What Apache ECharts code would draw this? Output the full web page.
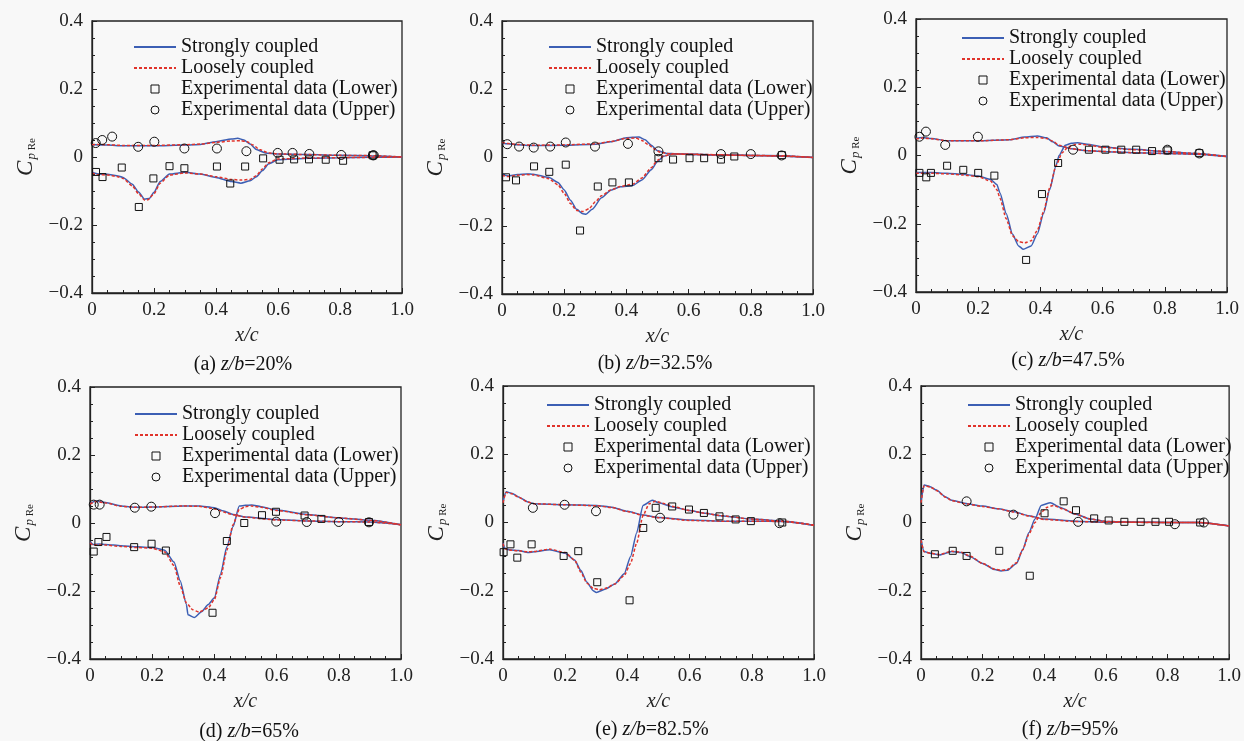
<!DOCTYPE html>
<html>
<head>
<meta charset="utf-8">
<script src="https://cdn.jsdelivr.net/npm/echarts@6/dist/echarts.min.js"></script>
<style>
html,body{margin:0;padding:0;background:#f8f8f8;}
#chart{width:1244px;height:741px;}
</style>
</head>
<body>
<div id="chart"></div>
<script>
// ---------- Data ----------
const panelLetters = ['a', 'b', 'c', 'd', 'e', 'f'];
const panelSpans = ['20%', '32.5%', '47.5%', '65%', '82.5%', '95%'];
const xTicks = [0, 0.2, 0.4, 0.6, 0.8, 1.0];
const yTicks = [-0.4, -0.2, 0, 0.2, 0.4];
const seriesNames = ['Strongly coupled', 'Loosely coupled', 'Experimental data (Lower)', 'Experimental data (Upper)'];

// Panel (a) z/b = 20%
const aStrongUp = [[0,0.035],[0.01,0.036],[0.05,0.035],[0.1,0.033],[0.2,0.033],[0.3,0.035],[0.35,0.037],[0.4,0.045],[0.45,0.053],[0.47,0.055],[0.49,0.05],[0.51,0.038],[0.53,0.022],[0.56,0.012],[0.6,0.009],[0.7,0.007],[0.8,0.005],[0.9,0.004],[1.0,0.0]];
const aLooseUp = [[0,0.036],[0.01,0.037],[0.05,0.036],[0.1,0.034],[0.2,0.034],[0.3,0.036],[0.35,0.038],[0.4,0.043],[0.45,0.047],[0.48,0.048],[0.5,0.045],[0.52,0.035],[0.54,0.022],[0.57,0.012],[0.6,0.009],[0.7,0.007],[0.8,0.005],[0.9,0.004],[1.0,0.0]];
const aStrongLow = [[0,-0.045],[0.02,-0.05],[0.05,-0.051],[0.08,-0.055],[0.1,-0.06],[0.13,-0.08],[0.15,-0.103],[0.17,-0.124],[0.185,-0.122],[0.2,-0.104],[0.22,-0.072],[0.25,-0.05],[0.3,-0.045],[0.35,-0.05],[0.4,-0.06],[0.45,-0.072],[0.48,-0.077],[0.51,-0.07],[0.53,-0.058],[0.55,-0.04],[0.57,-0.02],[0.6,-0.008],[0.7,-0.004],[0.8,-0.002],[0.9,-0.001],[1.0,0]];
const aLooseLow = [[0,-0.047],[0.02,-0.052],[0.05,-0.053],[0.08,-0.057],[0.1,-0.063],[0.13,-0.085],[0.15,-0.108],[0.17,-0.127],[0.18,-0.126],[0.2,-0.108],[0.22,-0.077],[0.25,-0.053],[0.3,-0.047],[0.35,-0.05],[0.4,-0.058],[0.45,-0.066],[0.48,-0.068],[0.51,-0.066],[0.53,-0.055],[0.55,-0.035],[0.57,-0.017],[0.6,-0.006],[0.7,-0.003],[0.8,-0.002],[0.9,-0.001],[1.0,0]];
const aExpLow = [[0.013,-0.044],[0.034,-0.059],[0.096,-0.031],[0.151,-0.147],[0.198,-0.063],[0.25,-0.027],[0.298,-0.033],[0.403,-0.028],[0.446,-0.078],[0.494,-0.028],[0.552,-0.004],[0.605,-0.008],[0.652,-0.007],[0.7,-0.007],[0.754,-0.008],[0.81,-0.011],[0.905,0.005]];
const aExpUp = [[0.012,0.041],[0.033,0.05],[0.065,0.06],[0.149,0.03],[0.201,0.045],[0.298,0.025],[0.403,0.025],[0.498,0.017],[0.599,0.012],[0.647,0.012],[0.701,0.009],[0.804,0.006],[0.906,0.005],[0.909,0.005]];

// Panel (b) z/b = 32.5%
const bStrongUp = [[0,0.042],[0.02,0.04],[0.05,0.037],[0.1,0.035],[0.2,0.036],[0.3,0.039],[0.35,0.046],[0.4,0.058],[0.44,0.06],[0.46,0.052],[0.48,0.036],[0.5,0.02],[0.53,0.012],[0.56,0.011],[0.6,0.009],[0.7,0.007],[0.8,0.006],[0.9,0.005],[1.0,0]];
const bLooseUp = [[0,0.044],[0.02,0.041],[0.05,0.038],[0.1,0.036],[0.2,0.037],[0.3,0.04],[0.35,0.047],[0.4,0.056],[0.43,0.057],[0.45,0.05],[0.47,0.038],[0.49,0.025],[0.51,0.015],[0.54,0.011],[0.6,0.009],[0.7,0.007],[0.8,0.006],[0.9,0.005],[1.0,0]];
const bStrongLow = [[0,-0.05],[0.02,-0.054],[0.05,-0.05],[0.08,-0.048],[0.1,-0.049],[0.15,-0.058],[0.18,-0.073],[0.2,-0.095],[0.22,-0.125],[0.24,-0.152],[0.26,-0.165],[0.27,-0.166],[0.29,-0.152],[0.32,-0.118],[0.35,-0.096],[0.38,-0.086],[0.42,-0.082],[0.45,-0.066],[0.48,-0.036],[0.5,-0.012],[0.52,0.004],[0.55,0.01],[0.6,0.01],[0.7,0.008],[0.8,0.006],[0.9,0.004],[1.0,0]];
const bLooseLow = [[0,-0.052],[0.02,-0.056],[0.05,-0.052],[0.08,-0.05],[0.1,-0.051],[0.15,-0.062],[0.18,-0.08],[0.2,-0.105],[0.22,-0.135],[0.24,-0.155],[0.26,-0.158],[0.28,-0.15],[0.3,-0.13],[0.32,-0.112],[0.35,-0.095],[0.38,-0.085],[0.42,-0.078],[0.45,-0.06],[0.48,-0.03],[0.5,-0.008],[0.52,0.005],[0.55,0.01],[0.6,0.01],[0.7,0.008],[0.8,0.006],[0.9,0.004],[1.0,0]];
const bExpLow = [[0.013,-0.058],[0.045,-0.067],[0.103,-0.026],[0.152,-0.042],[0.205,-0.021],[0.251,-0.214],[0.308,-0.085],[0.355,-0.073],[0.408,-0.073],[0.503,-0.002],[0.55,-0.006],[0.603,-0.002],[0.65,-0.002],[0.704,-0.006],[0.747,0.003],[0.9,0.007]];
const bExpUp = [[0.017,0.039],[0.055,0.032],[0.102,0.029],[0.155,0.032],[0.205,0.044],[0.299,0.032],[0.405,0.04],[0.503,0.018],[0.704,0.01],[0.8,0.01],[0.899,0.006]];

// Panel (c) z/b = 47.5%
const cStrongUp = [[0,0.05],[0.02,0.053],[0.05,0.05],[0.1,0.043],[0.2,0.043],[0.3,0.046],[0.35,0.054],[0.39,0.057],[0.42,0.052],[0.44,0.04],[0.46,0.028],[0.5,0.02],[0.55,0.014],[0.6,0.012],[0.7,0.008],[0.8,0.006],[0.9,0.004],[1.0,-0.003]];
const cLooseUp = [[0,0.048],[0.02,0.051],[0.05,0.049],[0.1,0.043],[0.2,0.043],[0.3,0.046],[0.35,0.052],[0.39,0.053],[0.42,0.05],[0.44,0.042],[0.46,0.03],[0.5,0.02],[0.55,0.014],[0.6,0.012],[0.7,0.008],[0.8,0.006],[0.9,0.004],[1.0,-0.003]];
const cStrongLow = [[0,-0.05],[0.05,-0.05],[0.1,-0.052],[0.15,-0.055],[0.2,-0.06],[0.24,-0.07],[0.26,-0.085],[0.27,-0.11],[0.29,-0.17],[0.31,-0.23],[0.33,-0.265],[0.345,-0.275],[0.37,-0.265],[0.39,-0.23],[0.41,-0.17],[0.43,-0.1],[0.45,-0.03],[0.46,0.0],[0.48,0.03],[0.5,0.036],[0.52,0.037],[0.55,0.033],[0.6,0.025],[0.7,0.018],[0.8,0.012],[0.9,0.006],[1.0,-0.003]];
const cLooseLow = [[0,-0.052],[0.05,-0.052],[0.1,-0.054],[0.15,-0.057],[0.2,-0.062],[0.24,-0.075],[0.26,-0.1],[0.27,-0.125],[0.29,-0.185],[0.31,-0.235],[0.33,-0.252],[0.35,-0.256],[0.37,-0.25],[0.39,-0.22],[0.41,-0.165],[0.43,-0.095],[0.45,-0.03],[0.47,0.008],[0.49,0.026],[0.51,0.032],[0.53,0.033],[0.56,0.03],[0.6,0.024],[0.7,0.017],[0.8,0.012],[0.9,0.006],[1.0,-0.003]];
const cExpLow = [[0.011,-0.051],[0.033,-0.064],[0.048,-0.051],[0.1,-0.03],[0.152,-0.042],[0.2,-0.051],[0.252,-0.059],[0.354,-0.306],[0.405,-0.113],[0.457,-0.022],[0.556,0.017],[0.609,0.017],[0.66,0.017],[0.708,0.017],[0.759,0.013],[0.809,0.015],[0.911,0.007]];
const cExpUp = [[0.011,0.055],[0.032,0.07],[0.094,0.031],[0.199,0.055],[0.505,0.017],[0.808,0.017],[0.911,0.006]];

// Panel (d) z/b = 65%
const dStrongUp = [[0,0.058],[0.02,0.065],[0.05,0.06],[0.1,0.05],[0.15,0.046],[0.2,0.047],[0.3,0.05],[0.35,0.05],[0.4,0.045],[0.43,0.035],[0.46,0.025],[0.5,0.018],[0.6,0.01],[0.7,0.006],[0.8,0.004],[0.9,0.003],[1.0,-0.005]];
const dLooseUp = [[0,0.056],[0.02,0.063],[0.05,0.059],[0.1,0.049],[0.15,0.046],[0.2,0.047],[0.3,0.05],[0.35,0.049],[0.4,0.042],[0.43,0.032],[0.46,0.024],[0.5,0.017],[0.6,0.009],[0.7,0.006],[0.8,0.004],[0.9,0.003],[1.0,-0.005]];
const dStrongLow = [[0,-0.055],[0.01,-0.063],[0.03,-0.062],[0.05,-0.063],[0.1,-0.067],[0.15,-0.07],[0.2,-0.072],[0.24,-0.08],[0.27,-0.115],[0.29,-0.17],[0.31,-0.24],[0.315,-0.27],[0.335,-0.278],[0.36,-0.26],[0.38,-0.24],[0.4,-0.22],[0.42,-0.15],[0.44,-0.07],[0.46,-0.01],[0.48,0.05],[0.5,0.052],[0.52,0.053],[0.55,0.048],[0.6,0.038],[0.7,0.025],[0.8,0.015],[0.9,0.008],[1.0,-0.005]];
const dLooseLow = [[0,-0.058],[0.01,-0.065],[0.03,-0.064],[0.05,-0.065],[0.1,-0.069],[0.15,-0.072],[0.2,-0.074],[0.24,-0.085],[0.27,-0.125],[0.29,-0.185],[0.31,-0.235],[0.33,-0.255],[0.35,-0.262],[0.38,-0.25],[0.4,-0.225],[0.42,-0.16],[0.44,-0.08],[0.46,-0.005],[0.48,0.04],[0.5,0.048],[0.52,0.05],[0.55,0.046],[0.6,0.037],[0.7,0.024],[0.8,0.015],[0.9,0.008],[1.0,-0.005]];
const dExpLow = [[0.012,-0.084],[0.027,-0.056],[0.053,-0.041],[0.142,-0.071],[0.198,-0.061],[0.244,-0.081],[0.394,-0.264],[0.44,-0.053],[0.496,0],[0.553,0.023],[0.598,0.033],[0.69,0.022],[0.744,0.012],[0.897,0.003]];
const dExpUp = [[0.012,0.054],[0.031,0.054],[0.144,0.045],[0.197,0.048],[0.402,0.029],[0.599,0.004],[0.697,0.003],[0.8,0.003],[0.897,0.002]];

// Panel (e) z/b = 82.5%
const eStrongUp = [[0,0.06],[0.01,0.09],[0.03,0.085],[0.05,0.075],[0.08,0.06],[0.1,0.055],[0.2,0.052],[0.3,0.05],[0.35,0.045],[0.4,0.033],[0.45,0.022],[0.5,0.015],[0.6,0.007],[0.7,0.004],[0.8,0.004],[0.9,0.003],[1.0,-0.008]];
const eLooseUp = [[0,0.058],[0.01,0.088],[0.03,0.084],[0.05,0.074],[0.08,0.06],[0.1,0.055],[0.2,0.052],[0.3,0.049],[0.35,0.044],[0.4,0.032],[0.45,0.021],[0.5,0.014],[0.6,0.006],[0.7,0.004],[0.8,0.004],[0.9,0.003],[1.0,-0.008]];
const eStrongLow = [[0,-0.06],[0.005,-0.075],[0.02,-0.08],[0.05,-0.082],[0.08,-0.088],[0.1,-0.086],[0.15,-0.08],[0.2,-0.09],[0.23,-0.11],[0.25,-0.14],[0.27,-0.175],[0.29,-0.2],[0.3,-0.205],[0.33,-0.195],[0.36,-0.18],[0.39,-0.15],[0.41,-0.1],[0.43,-0.03],[0.45,0.05],[0.48,0.065],[0.5,0.058],[0.55,0.045],[0.6,0.035],[0.65,0.027],[0.7,0.02],[0.8,0.01],[0.9,0.004],[1.0,-0.008]];
const eLooseLow = [[0,-0.062],[0.005,-0.076],[0.02,-0.081],[0.05,-0.083],[0.08,-0.086],[0.1,-0.085],[0.15,-0.078],[0.2,-0.088],[0.23,-0.11],[0.25,-0.145],[0.27,-0.178],[0.29,-0.193],[0.31,-0.197],[0.33,-0.193],[0.36,-0.18],[0.39,-0.155],[0.41,-0.12],[0.43,-0.06],[0.45,0.02],[0.47,0.055],[0.49,0.062],[0.52,0.055],[0.55,0.046],[0.6,0.035],[0.65,0.027],[0.7,0.02],[0.8,0.01],[0.9,0.004],[1.0,-0.008]];
const eExpLow = [[0.002,-0.087],[0.024,-0.064],[0.046,-0.103],[0.092,-0.064],[0.195,-0.098],[0.242,-0.084],[0.303,-0.175],[0.407,-0.228],[0.451,-0.016],[0.491,0.043],[0.544,0.047],[0.598,0.038],[0.646,0.028],[0.696,0.018],[0.748,0.009],[0.797,0.004],[0.898,0]];
const eExpUp = [[0.096,0.043],[0.198,0.052],[0.299,0.033],[0.505,0.014],[0.889,-0.002]];

// Panel (f) z/b = 95%
const fStrongUp = [[0,0.06],[0.01,0.11],[0.03,0.105],[0.05,0.095],[0.08,0.075],[0.1,0.065],[0.15,0.055],[0.2,0.048],[0.25,0.04],[0.3,0.032],[0.35,0.02],[0.4,0.01],[0.5,0.004],[0.6,0.001],[0.8,0],[0.9,0],[1.0,-0.01]];
const fLooseUp = [[0,0.058],[0.01,0.108],[0.03,0.104],[0.05,0.094],[0.08,0.074],[0.1,0.064],[0.15,0.054],[0.2,0.047],[0.25,0.04],[0.3,0.031],[0.35,0.019],[0.4,0.009],[0.5,0.003],[0.6,0.001],[0.8,0],[0.9,0],[1.0,-0.01]];
const fStrongLow = [[0,-0.05],[0.01,-0.085],[0.03,-0.09],[0.06,-0.095],[0.1,-0.085],[0.13,-0.088],[0.16,-0.1],[0.2,-0.12],[0.24,-0.138],[0.26,-0.142],[0.28,-0.14],[0.31,-0.12],[0.33,-0.08],[0.35,-0.03],[0.37,0.01],[0.39,0.05],[0.42,0.058],[0.45,0.045],[0.5,0.025],[0.55,0.01],[0.6,0.003],[0.7,0.001],[0.8,0],[0.9,0],[1.0,-0.01]];
const fLooseLow = [[0,-0.052],[0.01,-0.086],[0.03,-0.09],[0.06,-0.094],[0.1,-0.084],[0.13,-0.087],[0.16,-0.099],[0.2,-0.12],[0.24,-0.137],[0.26,-0.14],[0.28,-0.138],[0.31,-0.118],[0.33,-0.08],[0.35,-0.035],[0.37,0.0],[0.39,0.03],[0.41,0.045],[0.43,0.05],[0.46,0.04],[0.5,0.025],[0.55,0.01],[0.6,0.003],[0.7,0.001],[0.8,0],[0.9,0],[1.0,-0.01]];
const fExpLow = [[0.045,-0.093],[0.103,-0.083],[0.148,-0.098],[0.254,-0.083],[0.353,-0.156],[0.401,0.027],[0.463,0.062],[0.503,0.036],[0.562,0.012],[0.609,0.006],[0.66,0.002],[0.713,0.002],[0.761,0.002],[0.805,0.002],[0.906,0]];
const fExpUp = [[0.148,0.062],[0.3,0.023],[0.51,0.002],[0.824,-0.005],[0.918,0]];

// ---------- Layout / styling ----------
const panels = [
  {su: aStrongUp, lu: aLooseUp, sl: aStrongLow, ll: aLooseLow, el: aExpLow, eu: aExpUp},
  {su: bStrongUp, lu: bLooseUp, sl: bStrongLow, ll: bLooseLow, el: bExpLow, eu: bExpUp},
  {su: cStrongUp, lu: cLooseUp, sl: cStrongLow, ll: cLooseLow, el: cExpLow, eu: cExpUp},
  {su: dStrongUp, lu: dLooseUp, sl: dStrongLow, ll: dLooseLow, el: dExpLow, eu: dExpUp},
  {su: eStrongUp, lu: eLooseUp, sl: eStrongLow, ll: eLooseLow, el: eExpLow, eu: eExpUp},
  {su: fStrongUp, lu: fLooseUp, sl: fStrongLow, ll: fLooseLow, el: fExpLow, eu: fExpUp}
];
const gridBoxes = [
  {left: 92, top: 21, width: 310, height: 272},
  {left: 502, top: 21, width: 311, height: 273},
  {left: 916, top: 19, width: 311, height: 273},
  {left: 90, top: 387, width: 311, height: 272},
  {left: 503, top: 386, width: 311, height: 273},
  {left: 921, top: 386, width: 310, height: 273}
];
const legendPos = [
  {left: 133, top: 37}, {left: 548, top: 37}, {left: 961, top: 28},
  {left: 134, top: 404}, {left: 546, top: 395}, {left: 967, top: 395}
];
const captionPos = [
  {x: 243, y: 365}, {x: 655, y: 364}, {x: 1068, y: 361},
  {x: 249, y: 732}, {x: 652, y: 730}, {x: 1070, y: 730}
];

const FONT = "'Liberation Serif', 'DejaVu Serif', serif";
const BLUE = '#3c5fb4';
const RED = '#e0332b';
const AX = '#222';

function fmtNum(v) {
  if (Math.abs(v) < 1e-9) return '0';
  return (v < 0 ? '\u2212' : '') + Math.abs(v).toFixed(1);
}

const grid = [], xAxis = [], yAxis = [], series = [], legend = [], graphic = [];

panels.forEach((p, i) => {
  grid.push(Object.assign({show: true, borderColor: AX, borderWidth: 1.3, backgroundColor: 'transparent'}, gridBoxes[i]));
  xAxis.push({
    type: 'value', gridIndex: i, min: xTicks[0], max: xTicks[xTicks.length - 1], interval: 0.2,
    axisLine: {show: true, onZero: false, lineStyle: {color: AX, width: 1.3}},
    axisTick: {show: true, inside: true, length: 5, lineStyle: {color: AX, width: 1}},
    minorTick: {show: true, splitNumber: 4, length: 3, lineStyle: {color: AX, width: 1}},
    splitLine: {show: false},
    axisLabel: {formatter: fmtNum, fontSize: 19, fontFamily: FONT, color: AX, margin: 8},
    name: 'x/c', nameLocation: 'middle', nameGap: 33,
    nameTextStyle: {fontStyle: 'italic', fontSize: 20, fontFamily: FONT, color: AX}
  });
  yAxis.push({
    type: 'value', gridIndex: i, min: yTicks[0], max: yTicks[yTicks.length - 1], interval: 0.2,
    axisLine: {show: true, onZero: false, lineStyle: {color: AX, width: 1.3}},
    axisTick: {show: true, inside: true, length: 5, lineStyle: {color: AX, width: 1}},
    minorTick: {show: true, splitNumber: 4, length: 3, lineStyle: {color: AX, width: 1}},
    splitLine: {show: false},
    axisLabel: {formatter: fmtNum, fontSize: 19, fontFamily: FONT, color: AX, margin: 9},
    name: '{c|C}{p|p}{r| Re}', nameLocation: 'middle', nameGap: 54,
    nameTextStyle: {
      color: AX, fontFamily: FONT,
      rich: {
        c: {fontStyle: 'italic', fontSize: 23, fontFamily: FONT, color: AX, lineHeight: 24},
        p: {fontStyle: 'italic', fontSize: 13, fontFamily: FONT, color: AX, verticalAlign: 'bottom', lineHeight: 24, padding: [8, 0, 0, 1]},
        r: {fontSize: 11, fontFamily: FONT, color: AX, verticalAlign: 'bottom', lineHeight: 24, padding: [8, 0, 0, 0]}
      }
    }
  });
  const common = {xAxisIndex: i, yAxisIndex: i, symbol: 'none', smooth: 0.2, smoothMonotone: 'x', silent: true};
  series.push(Object.assign({type: 'line', name: seriesNames[0], data: p.su, lineStyle: {color: BLUE, width: 1.5}, itemStyle: {color: BLUE}, z: 3}, common));
  series.push(Object.assign({type: 'line', name: seriesNames[0], data: p.sl, lineStyle: {color: BLUE, width: 1.5}, itemStyle: {color: BLUE}, z: 3}, common));
  series.push(Object.assign({type: 'line', name: seriesNames[1], data: p.lu, lineStyle: {color: RED, width: 1.5, type: [3, 2]}, itemStyle: {color: RED}, z: 4}, common));
  series.push(Object.assign({type: 'line', name: seriesNames[1], data: p.ll, lineStyle: {color: RED, width: 1.5, type: [3, 2]}, itemStyle: {color: RED}, z: 4}, common));
  // Experimental points: markers only (no connecting line)
  series.push({type: 'line', name: seriesNames[2], xAxisIndex: i, yAxisIndex: i, data: p.el,
    symbol: 'rect', symbolSize: 7, showSymbol: true, showAllSymbol: true,
    lineStyle: {width: 0, opacity: 0},
    itemStyle: {color: 'transparent', borderColor: '#111', borderWidth: 1}, z: 5, silent: true});
  series.push({type: 'line', name: seriesNames[3], xAxisIndex: i, yAxisIndex: i, data: p.eu,
    symbol: 'circle', symbolSize: 9, showSymbol: true, showAllSymbol: true,
    lineStyle: {width: 0, opacity: 0},
    itemStyle: {color: 'transparent', borderColor: '#111', borderWidth: 1}, z: 5, silent: true});
  legend.push({
    left: legendPos[i].left, top: legendPos[i].top, orient: 'vertical', padding: 0,
    itemWidth: 42, itemHeight: 10, itemGap: 1, selectedMode: false,
    itemStyle: {borderWidth: 1},
    textStyle: {fontSize: 20, fontFamily: FONT, color: '#111', lineHeight: 20},
    data: [
      {name: seriesNames[0], itemStyle: {opacity: 0}},
      {name: seriesNames[1], itemStyle: {opacity: 0}},
      {name: seriesNames[2]},
      {name: seriesNames[3]}
    ]
  });
  graphic.push({
    type: 'text', x: captionPos[i].x, y: captionPos[i].y, silent: true,
    style: {
      text: '(' + panelLetters[i] + ') {i|z/b}=' + panelSpans[i],
      fontSize: 20, fontFamily: FONT, fill: '#111',
      align: 'center', verticalAlign: 'middle', textAlign: 'center', textVerticalAlign: 'middle',
      rich: {i: {fontStyle: 'italic', fontSize: 20, fontFamily: FONT, fill: '#111', color: '#111'}}
    }
  });
});

const chart = echarts.init(document.getElementById('chart'), null, {renderer: 'canvas'});
chart.setOption({
  backgroundColor: '#f8f8f8',
  animation: false,
  grid, xAxis, yAxis, series, legend, graphic
});
</script>
</body>
</html>
